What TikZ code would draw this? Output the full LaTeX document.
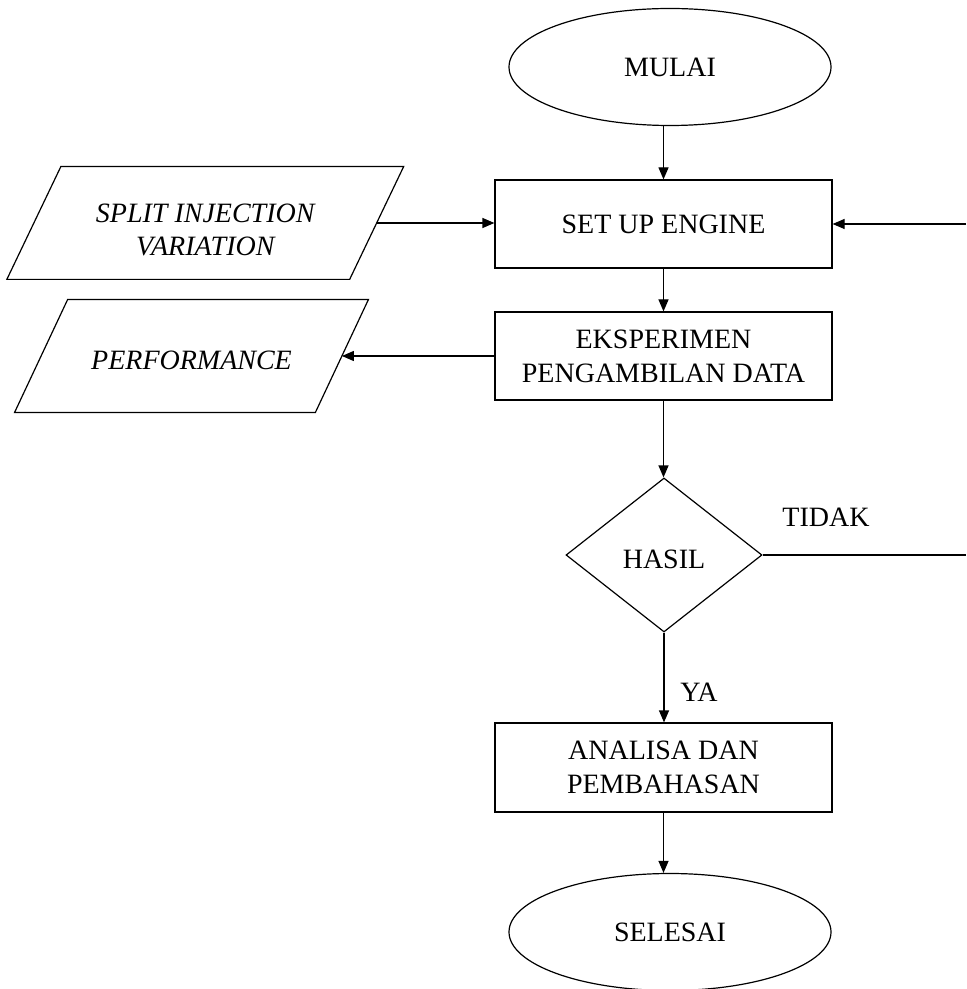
\documentclass[tikz,border=0pt]{standalone}
\usepackage{fontspec}
\setmainfont{Liberation Serif}
\usetikzlibrary{shapes.geometric,arrows.meta}
\begin{document}
\begin{tikzpicture}[x=0.5pt,y=-0.5pt,
  every node/.style={font=\fontsize{14}{17}\selectfont, align=center},
  line/.style={line width=0.6pt},
  arr/.style={line, -{Triangle[length=6pt,width=5pt]}},
  box/.style={draw, line width=0.6pt, minimum width=168.5pt, minimum height=44pt, inner sep=0},
  term/.style={draw, ellipse, line width=0.6pt, minimum width=161pt, minimum height=58.5pt, inner sep=0},
  decide/.style={draw, diamond, line width=0.6pt, minimum width=98pt, minimum height=77pt, inner sep=0},
  iobox/.style={minimum height=56pt, inner sep=0, font=\fontsize{14}{16.5}\selectfont\itshape},
]
\useasboundingbox (0,0) rectangle (966,989);

\node[term] (mulai) at (670,67) {MULAI};
\node[box] (setup) at (663.5,224) {SET UP ENGINE};
\node[box] (eksp) at (663.5,356) {EKSPERIMEN\\PENGAMBILAN DATA};
\node[decide] (hasil) at (664,555) {\rule{0pt}{14pt}HASIL};
\node[box, minimum height=44.5pt] (analisa) at (663.5,767.5) {ANALISA DAN\\PEMBAHASAN};
\node[term] (selesai) at (670,932) {SELESAI};
\node[iobox, minimum width=171pt] (split) at (205.25,223) {\rule{0pt}{16.3pt}SPLIT INJECTION\\VARIATION};
\node[iobox, minimum width=150pt] (perf) at (191.5,356) {\rule{0pt}{14pt}PERFORMANCE};

\draw[line] ([xshift=13.5pt]split.north west) -- ([xshift=13.5pt]split.north east)
  -- ([xshift=-13.5pt]split.south east) -- ([xshift=-13.5pt]split.south west) -- cycle;
\draw[line] ([xshift=13.25pt]perf.north west) -- ([xshift=13.25pt]perf.north east)
  -- ([xshift=-13.25pt]perf.south east) -- ([xshift=-13.25pt]perf.south west) -- cycle;

\node (tidak) at (826,517) {TIDAK};
\node (ya) at (699,692) {YA};

\coordinate (rtop) at (966,224);
\coordinate (rbot) at (966,555);

\draw[arr] (setup.north |- mulai.south) -- (setup.north);
\draw[arr] (split.east) -- (split.east -| setup.west);
\draw[arr] (rtop) -- (setup.east);
\draw[arr] (setup.south) -- (eksp.north);
\draw[arr] (eksp.west) -- (perf.east);
\draw[arr] (eksp.south) -- (eksp.south |- hasil.north);
\draw[line] (hasil.east) -- (rbot);
\draw[arr] (hasil.south) -- (hasil.south |- analisa.north);
\draw[arr] (analisa.south) -- (analisa.south |- selesai.north);
\end{tikzpicture}
\end{document}
